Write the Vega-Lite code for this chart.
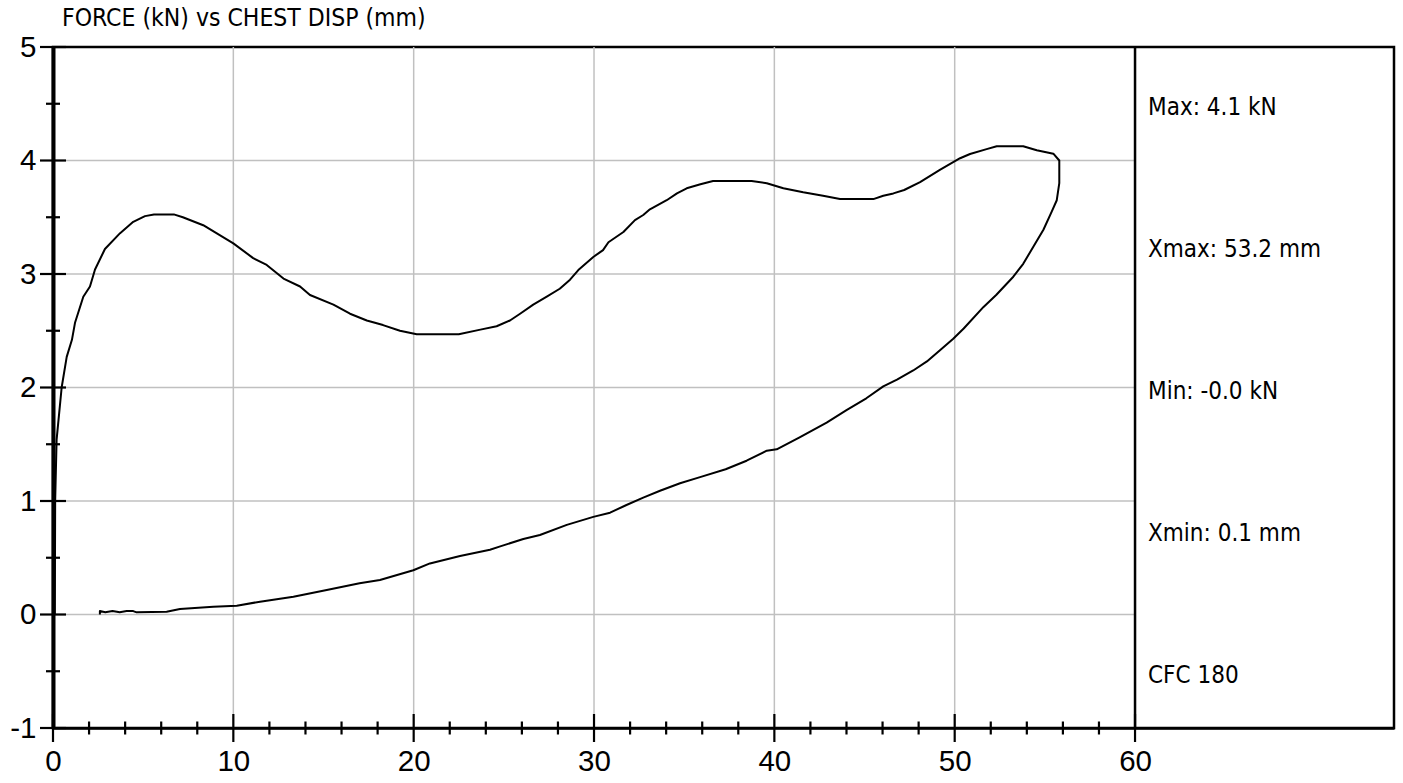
{
  "$schema": "https://vega.github.io/schema/vega-lite/v6.json",
  "width": 1341,
  "height": 681,
  "autosize": {"type": "none"},
  "padding": {"left": 53, "top": 47, "right": 9, "bottom": 55},
  "background": "white",
  "title": {
    "text": "FORCE (kN) vs CHEST DISP (mm)",
    "anchor": "start",
    "frame": "group",
    "dx": 9,
    "dy": 36,
    "offset": 18,
    "baseline": "alphabetic",
    "font": "Liberation Sans Narrow, DejaVu Sans Condensed, Arial Narrow, sans-serif",
    "fontSize": 24.5,
    "fontWeight": "normal",
    "color": "#000000"
  },
  "config": {
    "view": {"stroke": "#000000", "strokeWidth": 2.5}
  },
  "datasets": {
    "curve": [
      {"i": 0, "disp": 0.1, "force": 0.0},
      {"i": 1, "disp": 0.12, "force": 1.0},
      {"i": 2, "disp": 0.2, "force": 1.54},
      {"i": 3, "disp": 0.48, "force": 2.0},
      {"i": 4, "disp": 0.76, "force": 2.27},
      {"i": 5, "disp": 1.05, "force": 2.42},
      {"i": 6, "disp": 1.22, "force": 2.57},
      {"i": 7, "disp": 1.68, "force": 2.8},
      {"i": 8, "disp": 2.05, "force": 2.89},
      {"i": 9, "disp": 2.33, "force": 3.04},
      {"i": 10, "disp": 2.88, "force": 3.22},
      {"i": 11, "disp": 3.72, "force": 3.36},
      {"i": 12, "disp": 4.45, "force": 3.46},
      {"i": 13, "disp": 5.1, "force": 3.51},
      {"i": 14, "disp": 5.6, "force": 3.525},
      {"i": 15, "disp": 6.7, "force": 3.525},
      {"i": 16, "disp": 7.2, "force": 3.5},
      {"i": 17, "disp": 8.33, "force": 3.43},
      {"i": 18, "disp": 10.0, "force": 3.27},
      {"i": 19, "disp": 11.1, "force": 3.14},
      {"i": 20, "disp": 11.85, "force": 3.08},
      {"i": 21, "disp": 12.78, "force": 2.96},
      {"i": 22, "disp": 13.7, "force": 2.89},
      {"i": 23, "disp": 14.25, "force": 2.815},
      {"i": 24, "disp": 15.55, "force": 2.73},
      {"i": 25, "disp": 16.47, "force": 2.65},
      {"i": 26, "disp": 17.4, "force": 2.59},
      {"i": 27, "disp": 18.3, "force": 2.55},
      {"i": 28, "disp": 19.24, "force": 2.5},
      {"i": 29, "disp": 20.17, "force": 2.47},
      {"i": 30, "disp": 22.5, "force": 2.47},
      {"i": 31, "disp": 23.7, "force": 2.51},
      {"i": 32, "disp": 24.6, "force": 2.54},
      {"i": 33, "disp": 25.34, "force": 2.59},
      {"i": 34, "disp": 25.9, "force": 2.65},
      {"i": 35, "disp": 26.63, "force": 2.73},
      {"i": 36, "disp": 27.38, "force": 2.8},
      {"i": 37, "disp": 28.1, "force": 2.87},
      {"i": 38, "disp": 28.67, "force": 2.95},
      {"i": 39, "disp": 29.13, "force": 3.035},
      {"i": 40, "disp": 29.96, "force": 3.15},
      {"i": 41, "disp": 30.5, "force": 3.21},
      {"i": 42, "disp": 30.8, "force": 3.28},
      {"i": 43, "disp": 31.63, "force": 3.37},
      {"i": 44, "disp": 32.27, "force": 3.475},
      {"i": 45, "disp": 32.73, "force": 3.52},
      {"i": 46, "disp": 33.1, "force": 3.57},
      {"i": 47, "disp": 34.03, "force": 3.65},
      {"i": 48, "disp": 34.6, "force": 3.71},
      {"i": 49, "disp": 35.14, "force": 3.755},
      {"i": 50, "disp": 35.9, "force": 3.79},
      {"i": 51, "disp": 36.6, "force": 3.82},
      {"i": 52, "disp": 38.74, "force": 3.82},
      {"i": 53, "disp": 39.58, "force": 3.8},
      {"i": 54, "disp": 40.5, "force": 3.755},
      {"i": 55, "disp": 41.6, "force": 3.72},
      {"i": 56, "disp": 42.7, "force": 3.69},
      {"i": 57, "disp": 43.64, "force": 3.66},
      {"i": 58, "disp": 45.49, "force": 3.66},
      {"i": 59, "disp": 46.04, "force": 3.69},
      {"i": 60, "disp": 46.6, "force": 3.71},
      {"i": 61, "disp": 47.2, "force": 3.74},
      {"i": 62, "disp": 48.08, "force": 3.81},
      {"i": 63, "disp": 49.2, "force": 3.92},
      {"i": 64, "disp": 50.3, "force": 4.02},
      {"i": 65, "disp": 50.85, "force": 4.057},
      {"i": 66, "disp": 51.77, "force": 4.1},
      {"i": 67, "disp": 52.33, "force": 4.125},
      {"i": 68, "disp": 53.8, "force": 4.125},
      {"i": 69, "disp": 54.55, "force": 4.09},
      {"i": 70, "disp": 55.47, "force": 4.06},
      {"i": 71, "disp": 55.8, "force": 4.0},
      {"i": 72, "disp": 55.8, "force": 3.8},
      {"i": 73, "disp": 55.66, "force": 3.65},
      {"i": 74, "disp": 55.38, "force": 3.55},
      {"i": 75, "disp": 54.92, "force": 3.39},
      {"i": 76, "disp": 54.36, "force": 3.24},
      {"i": 77, "disp": 53.8, "force": 3.09},
      {"i": 78, "disp": 53.25, "force": 2.976},
      {"i": 79, "disp": 52.3, "force": 2.815},
      {"i": 80, "disp": 51.6, "force": 2.71},
      {"i": 81, "disp": 50.5, "force": 2.52},
      {"i": 82, "disp": 49.92, "force": 2.43},
      {"i": 83, "disp": 49.2, "force": 2.33},
      {"i": 84, "disp": 48.46, "force": 2.23},
      {"i": 85, "disp": 47.7, "force": 2.15},
      {"i": 86, "disp": 46.8, "force": 2.07},
      {"i": 87, "disp": 46.04, "force": 2.01},
      {"i": 88, "disp": 45.1, "force": 1.905},
      {"i": 89, "disp": 44.0, "force": 1.8},
      {"i": 90, "disp": 42.9, "force": 1.69},
      {"i": 91, "disp": 41.4, "force": 1.56},
      {"i": 92, "disp": 40.13, "force": 1.455},
      {"i": 93, "disp": 39.58, "force": 1.443},
      {"i": 94, "disp": 38.46, "force": 1.355},
      {"i": 95, "disp": 37.3, "force": 1.28},
      {"i": 96, "disp": 35.88, "force": 1.21},
      {"i": 97, "disp": 34.77, "force": 1.156},
      {"i": 98, "disp": 33.66, "force": 1.09},
      {"i": 99, "disp": 32.73, "force": 1.03},
      {"i": 100, "disp": 31.8, "force": 0.965},
      {"i": 101, "disp": 30.89, "force": 0.897},
      {"i": 102, "disp": 29.96, "force": 0.86},
      {"i": 103, "disp": 28.49, "force": 0.79},
      {"i": 104, "disp": 27.0, "force": 0.7},
      {"i": 105, "disp": 26.08, "force": 0.665},
      {"i": 106, "disp": 24.8, "force": 0.6},
      {"i": 107, "disp": 24.23, "force": 0.57},
      {"i": 108, "disp": 22.57, "force": 0.515},
      {"i": 109, "disp": 20.9, "force": 0.45},
      {"i": 110, "disp": 19.98, "force": 0.39},
      {"i": 111, "disp": 18.13, "force": 0.304},
      {"i": 112, "disp": 17.0, "force": 0.275},
      {"i": 113, "disp": 15.18, "force": 0.216},
      {"i": 114, "disp": 13.33, "force": 0.157},
      {"i": 115, "disp": 11.48, "force": 0.113},
      {"i": 116, "disp": 10.19, "force": 0.078},
      {"i": 117, "disp": 8.89, "force": 0.069},
      {"i": 118, "disp": 7.04, "force": 0.048},
      {"i": 119, "disp": 6.3, "force": 0.025},
      {"i": 120, "disp": 4.64, "force": 0.019},
      {"i": 121, "disp": 4.45, "force": 0.03},
      {"i": 122, "disp": 4.08, "force": 0.03},
      {"i": 123, "disp": 3.7, "force": 0.019},
      {"i": 124, "disp": 3.3, "force": 0.03},
      {"i": 125, "disp": 2.9, "force": 0.02},
      {"i": 126, "disp": 2.6, "force": 0.03},
      {"i": 127, "disp": 2.6, "force": 0.0}
    ],
    "xgrid": [{"v": 10}, {"v": 20}, {"v": 30}, {"v": 40}, {"v": 50}],
    "ygrid": [{"v": 0}, {"v": 1}, {"v": 2}, {"v": 3}, {"v": 4}],
    "ymajor": [{"v": -1}, {"v": 0}, {"v": 1}, {"v": 2}, {"v": 3}, {"v": 4}, {"v": 5}],
    "yminor": [{"v": -0.5}, {"v": 0.5}, {"v": 1.5}, {"v": 2.5}, {"v": 3.5}, {"v": 4.5}],
    "xmajor": [{"v": 0}, {"v": 10}, {"v": 20}, {"v": 30}, {"v": 40}, {"v": 50}, {"v": 60}],
    "xminor": [{"v": 2}, {"v": 4}, {"v": 6}, {"v": 8}, {"v": 12}, {"v": 14}, {"v": 16}, {"v": 18}, {"v": 22}, {"v": 24}, {"v": 26}, {"v": 28}, {"v": 32}, {"v": 34}, {"v": 36}, {"v": 38}, {"v": 42}, {"v": 44}, {"v": 46}, {"v": 48}, {"v": 52}, {"v": 54}, {"v": 56}, {"v": 58}],
    "stats": [
      {"label": "Max: 4.1 kN", "px": 60.72, "py": 4.46},
      {"label": "Xmax: 53.2 mm", "px": 60.72, "py": 3.21},
      {"label": "Min: -0.0 kN", "px": 60.72, "py": 1.96},
      {"label": "Xmin: 0.1 mm", "px": 60.72, "py": 0.71},
      {"label": "CFC 180", "px": 60.72, "py": -0.54}
    ]
  },
  "layer": [
    {
      "data": {"name": "xgrid"},
      "mark": {"type": "rule", "color": "#c0c0c0", "strokeWidth": 1.5},
      "encoding": {
        "x": {"field": "v", "type": "quantitative", "title": null},
        "y": {"datum": -1, "type": "quantitative", "title": null},
        "y2": {"datum": 5}
      }
    },
    {
      "data": {"name": "ygrid"},
      "mark": {"type": "rule", "color": "#c0c0c0", "strokeWidth": 1.5},
      "encoding": {
        "y": {"field": "v", "type": "quantitative", "title": null},
        "x": {"datum": 0, "type": "quantitative", "title": null},
        "x2": {"datum": 60}
      }
    },
    {
      "data": {"name": "curve"},
      "mark": {"type": "line", "color": "#000000", "strokeWidth": 2, "strokeJoin": "round"},
      "encoding": {
        "x": {
          "field": "disp", "type": "quantitative", "title": null,
          "scale": {"domain": [0, 74.36], "nice": false, "zero": false},
          "axis": {
            "title": null, "values": [0, 10, 20, 30, 40, 50, 60],
            "labelExpr": "'' + datum.value",
            "grid": false, "ticks": false, "tickSize": 0,
            "domain": true, "domainColor": "#000000", "domainWidth": 2.5,
            "labelFont": "Liberation Sans, Arial, sans-serif",
            "labelFontSize": 29.5, "labelColor": "#000000", "labelPadding": 19,
            "labelFlush": false, "labelOverlap": false, "zindex": 2
          }
        },
        "y": {
          "field": "force", "type": "quantitative", "title": null,
          "scale": {"domain": [-1, 5], "nice": false, "zero": false},
          "axis": {
            "title": null, "values": [-1, 0, 1, 2, 3, 4, 5],
            "labelExpr": "'' + datum.value",
            "grid": false, "ticks": false, "tickSize": 0,
            "domain": true, "domainColor": "#000000", "domainWidth": 4,
            "labelFont": "Liberation Sans, Arial, sans-serif",
            "labelFontSize": 29.5, "labelColor": "#000000", "labelPadding": 17,
            "labelFlush": false, "labelOverlap": false, "zindex": 2
          }
        },
        "order": {"field": "i", "type": "quantitative"}
      }
    },
    {
      "data": {"values": [{"v": 60}]},
      "mark": {"type": "rule", "color": "#000000", "strokeWidth": 2.5},
      "encoding": {
        "x": {"field": "v", "type": "quantitative", "title": null},
        "y": {"datum": -1, "type": "quantitative", "title": null},
        "y2": {"datum": 5}
      }
    },
    {
      "data": {"name": "ymajor"},
      "mark": {"type": "tick", "orient": "horizontal", "color": "#000000", "size": 26, "thickness": 2.2, "opacity": 1},
      "encoding": {
        "y": {"field": "v", "type": "quantitative", "title": null},
        "x": {"datum": 0, "type": "quantitative", "title": null}
      }
    },
    {
      "data": {"name": "yminor"},
      "mark": {"type": "tick", "orient": "horizontal", "color": "#000000", "size": 14, "thickness": 2.2, "opacity": 1},
      "encoding": {
        "y": {"field": "v", "type": "quantitative", "title": null},
        "x": {"datum": 0, "type": "quantitative", "title": null}
      }
    },
    {
      "data": {"name": "xmajor"},
      "mark": {"type": "tick", "orient": "vertical", "color": "#000000", "size": 28, "thickness": 2.2, "opacity": 1},
      "encoding": {
        "x": {"field": "v", "type": "quantitative", "title": null},
        "y": {"datum": -1, "type": "quantitative", "title": null}
      }
    },
    {
      "data": {"name": "xminor"},
      "mark": {"type": "tick", "orient": "vertical", "color": "#000000", "size": 13, "thickness": 2.2, "opacity": 1},
      "encoding": {
        "x": {"field": "v", "type": "quantitative", "title": null},
        "y": {"datum": -1, "type": "quantitative", "title": null}
      }
    },
    {
      "data": {"name": "stats"},
      "mark": {
        "type": "text", "align": "left", "baseline": "middle", "color": "#000000",
        "font": "Liberation Sans Narrow, DejaVu Sans Condensed, Arial Narrow, sans-serif",
        "fontSize": 24
      },
      "encoding": {
        "x": {"field": "px", "type": "quantitative", "title": null},
        "y": {"field": "py", "type": "quantitative", "title": null},
        "text": {"field": "label"}
      }
    }
  ]
}
